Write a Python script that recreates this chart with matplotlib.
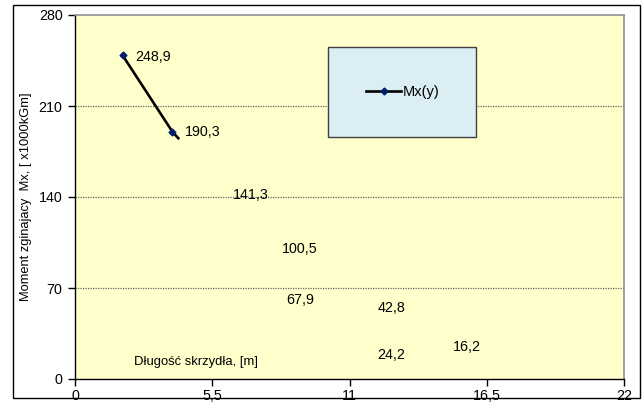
import matplotlib
matplotlib.use("Agg")
import matplotlib.pyplot as plt
from matplotlib.patches import Rectangle

plt.rcParams["font.family"] = ["Liberation Sans", "DejaVu Sans"]
plt.rcParams["font.size"] = 10

# visible part of the Mx(y) curve
line_x = [1.91, 3.90, 4.14]
line_y = [248.9, 190.3, 185.2]
marker_x = [1.91, 3.90]
marker_y = [248.9, 190.3]

# data labels as they sit on the chart
label_text = ["248,9", "190,3", "141,3", "100,5", "67,9", "42,8", "24,2", "16,2"]
label_x = [2.40, 4.41, 6.33, 8.30, 8.46, 12.14, 12.10, 15.15]
label_y = [247.7, 190.0, 141.5, 100.0, 60.4, 54.6, 18.5, 24.6]

x_ticks = [0, 5.5, 11, 16.5, 22]
x_tick_labels = ["0", "5,5", "11", "16,5", "22"]
y_ticks = [0, 70, 140, 210, 280]

fig = plt.figure(figsize=(6.44, 4.03), dpi=100)
fig.patches.append(Rectangle((13 / 644, 1 - 398 / 403), 627 / 644, 393 / 403,
                             transform=fig.transFigure, fill=False,
                             edgecolor="black", linewidth=1))

ax = fig.add_axes([75 / 644, 24 / 403, 549 / 644, 364 / 403])
ax.set_facecolor("#FFFFCC")

ax.plot(line_x, line_y, color="black", linewidth=1.9, zorder=3)
ax.plot(marker_x, marker_y, linestyle="none", marker="D", markersize=3.5,
        color="#001F6B", zorder=4)

for txt, lx, ly in zip(label_text, label_x, label_y):
    ax.text(lx, ly, txt, ha="left", va="center", fontsize=10.3, zorder=5)

ax.text(2.36, 13.1, "Długość skrzydła, [m]", ha="left", va="center", fontsize=9.4)

ax.set_xlim(0, 22)
ax.set_ylim(0, 280)
ax.set_xticks(x_ticks)
ax.set_xticklabels(x_tick_labels)
ax.set_yticks(y_ticks)
ax.tick_params(direction="out", length=5, width=1, labelsize=10.3)
ax.tick_params(axis="x", pad=2)
ax.tick_params(axis="y", pad=4)

for y in y_ticks[1:-1]:
    ax.axhline(y, color="#666666", linewidth=0.9, linestyle=(0, (1, 1)), zorder=1)

for side in ["top", "right"]:
    ax.spines[side].set_color("#909090")
    ax.spines[side].set_linewidth(1.2)
for side in ["left", "bottom"]:
    ax.spines[side].set_color("black")
    ax.spines[side].set_linewidth(1)

ax.set_ylabel("Moment zginajacy  Mx, [ x1000kGm]", fontsize=9.3, labelpad=5)

# legend box
box = Rectangle((0.461, 0.665), 0.269, 0.247, transform=ax.transAxes,
                facecolor="#DAEEF3", edgecolor="#404040", linewidth=1, zorder=6)
ax.add_patch(box)
(handle,) = ax.plot([], [], color="black", linewidth=1.9, marker="D",
                    markersize=3.5, markerfacecolor="#001F6B",
                    markeredgecolor="#001F6B")
leg = ax.legend([handle], ["Mx(y)"], loc="center", bbox_to_anchor=(0.5975, 0.7885),
                frameon=False, handlelength=2.4, handletextpad=0.15,
                markerscale=1, fontsize=10.5)
leg.set_zorder(7)

fig.savefig("out.png", dpi=100)
